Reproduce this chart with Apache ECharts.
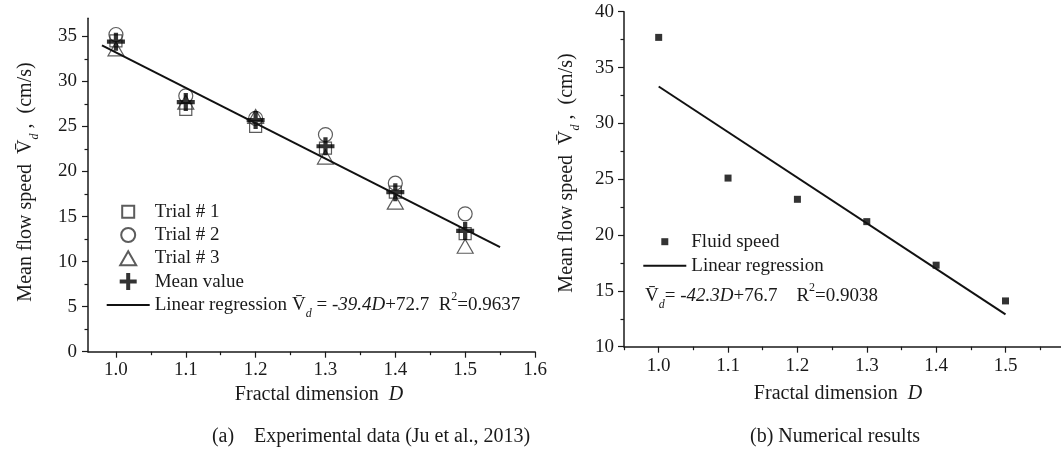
<!DOCTYPE html>
<html>
<head>
<meta charset="utf-8">
<script src="https://cdn.jsdelivr.net/npm/echarts@6/dist/echarts.min.js"></script>
<style>
  html, body { margin: 0; padding: 0; background: #fff; }
  #main { width: 1061px; height: 451px; }
</style>
</head>
<body>
<div id="main"></div>
<script>
// 数据
var fractalD = [1.0, 1.1, 1.2, 1.3, 1.4, 1.5];
// (a) 实验数据
var trial1 = [34.5, 26.9, 25.0, 22.6, 17.7, 13.1];
var trial2 = [35.2, 28.4, 25.9, 24.1, 18.7, 15.3];
var trial3 = [33.6, 27.7, 26.1, 21.6, 16.6, 11.7];
var meanValue = [34.4, 27.7, 25.7, 22.8, 17.7, 13.4];
var fitA = [[0.98, 34.0], [1.55, 11.6]];
// (b) 数值结果
var fluidSpeed = [37.7, 25.1, 23.2, 21.2, 17.3, 14.1];
var fitB = [[1.0, 33.3], [1.5, 12.9]];

// 刻度
var xTicks = [1.0, 1.1, 1.2, 1.3, 1.4, 1.5, 1.6];
var xMinorA = [1.05, 1.15, 1.25, 1.35, 1.45, 1.55];
var xTicksB = [1.0, 1.1, 1.2, 1.3, 1.4, 1.5];
var xMinorB = [0.95, 1.05, 1.15, 1.25, 1.35, 1.45, 1.55];
var yTicksA = [0, 5, 10, 15, 20, 25, 30, 35];
var yMinorA = [2.5, 7.5, 12.5, 17.5, 22.5, 27.5, 32.5];
var yTicksB = [10, 15, 20, 25, 30, 35, 40];
var yMinorB = [12.5, 17.5, 22.5, 27.5, 32.5, 37.5];

var FONT = "'Liberation Serif', 'Times New Roman', serif";
var INK = '#1a1a1a';

// 符号（外加空白 moveTo 控制大小）
var SQ = 'path://M0,0M17,17M2.5,2.5H14.5V14.5H2.5Z';
var CIR = 'path://M0,0M17,17M1.5,8.5A7,7,0,1,1,15.5,8.5A7,7,0,1,1,1.5,8.5Z';
var TRI = 'path://M0,0M17,17M0.5,15.5L8.5,1.5L16.5,15.5Z';
var CROSS = 'path://M6.5,0H10.5V6.5H17V10.5H10.5V17H6.5V10.5H0V6.5H6.5Z';
var SQ_SMALL = 'path://M0,0M17,17M5,5H12V12H5Z';
var LINE_ICON = 'path://M0,0H43V2H0Z';

function pairs(ys) {
    return fractalD.map(function (d, i) { return [d, ys[i]]; });
}

function mainX(grid, min, max, ticks, margin) {
    return {
        gridIndex: grid, type: 'value', min: min, max: max, position: 'bottom',
        axisLine: { onZero: false, lineStyle: { color: INK, width: 1.5 } },
        axisTick: { customValues: ticks, length: 6, lineStyle: { color: INK, width: 1.2 } },
        axisLabel: {
            customValues: ticks, margin: margin, fontSize: 19, fontFamily: FONT, color: INK,
            formatter: function (v) { return v.toFixed(1); }
        },
        splitLine: { show: false }
    };
}
function minorX(grid, min, max, ticks) {
    return {
        gridIndex: grid, type: 'value', min: min, max: max, position: 'bottom',
        axisLine: { show: false, onZero: false },
        axisTick: { customValues: ticks, length: 3.5, lineStyle: { color: INK, width: 1.2 } },
        axisLabel: { show: false },
        splitLine: { show: false }
    };
}
function mainY(grid, min, max, ticks, margin) {
    return {
        gridIndex: grid, type: 'value', min: min, max: max, position: 'left',
        axisLine: { show: true, onZero: false, lineStyle: { color: INK, width: 1.5 } },
        axisTick: { show: true, customValues: ticks, length: 6, lineStyle: { color: INK, width: 1.2 } },
        axisLabel: { customValues: ticks, margin: margin, fontSize: 19, fontFamily: FONT, color: INK },
        splitLine: { show: false }
    };
}
function minorY(grid, min, max, ticks) {
    return {
        gridIndex: grid, type: 'value', min: min, max: max, position: 'left',
        axisLine: { show: false, onZero: false },
        axisTick: { show: true, customValues: ticks, length: 3.5, lineStyle: { color: INK, width: 1.2 } },
        axisLabel: { show: false },
        splitLine: { show: false }
    };
}

function eqRich(size) {
    return {
        n: { fontSize: size, fontFamily: FONT, fill: INK, color: INK, lineHeight: size + 10 },
        i: { fontSize: size, fontFamily: FONT, fill: INK, color: INK, fontStyle: 'italic', lineHeight: size + 10 },
        s: { fontSize: 12, fontFamily: FONT, fill: INK, color: INK, fontStyle: 'italic', lineHeight: 12, verticalAlign: 'bottom' },
        p: { fontSize: 12, fontFamily: FONT, fill: INK, color: INK, lineHeight: 16, verticalAlign: 'top' }
    };
}
function textEl(x, y, text, size, rot) {
    return {
        type: 'text', x: x, y: y, rotation: rot || 0,
        style: {
            text: text, rich: eqRich(size), fontSize: size, fontFamily: FONT, fill: INK,
            align: 'center', verticalAlign: 'middle', textAlign: 'center', textVerticalAlign: 'middle'
        }
    };
}
function leftText(x, y, text, size) {
    var el = textEl(x, y, text, size);
    el.style.align = 'left';
    el.style.textAlign = 'left';
    return el;
}

var VBAR = 'V\u0304';
var yName = '{n|Mean flow speed  ' + VBAR + '}{s|d}{n| ,  (cm/s)}';
var hollow = { color: 'rgba(0,0,0,0)', borderColor: '#333', borderWidth: 1.2 };
var legendText = { fontSize: 19, fontFamily: FONT, color: INK, lineHeight: 20 };

var myChart = echarts.init(document.getElementById('main'));
myChart.setOption({
    animation: false,
    backgroundColor: '#fff',
    grid: [
        { left: 88, top: 18.3, width: 447, height: 333.4 },
        { left: 624, top: 11.7, width: 437, height: 335 }
    ],
    xAxis: [
        mainX(0, 0.96, 1.6, xTicks, 9),
        minorX(0, 0.96, 1.6, xMinorA),
        mainX(1, 0.95, 1.58, xTicksB, 10),
        minorX(1, 0.95, 1.58, xMinorB)
    ],
    yAxis: [
        mainY(0, 0, 37, yTicksA, 11),
        minorY(0, 0, 37, yMinorA),
        mainY(1, 10, 40, yTicksB, 10),
        minorY(1, 10, 40, yMinorB)
    ],
    legend: [
        {
            left: 106.7, top: 201.7, padding: 0, orient: 'vertical', itemWidth: 43, itemHeight: 17, itemGap: 3.3,
            selectedMode: false, textStyle: legendText,
            data: [
                { name: 'Trial # 1', icon: SQ },
                { name: 'Trial # 2', icon: CIR },
                { name: 'Trial # 3', icon: TRI },
                { name: 'Mean value', icon: CROSS },
                { name: 'Linear regression', icon: LINE_ICON }
            ]
        },
        {
            left: 643.3, top: 231.7, padding: 0, orient: 'vertical', itemWidth: 43, itemHeight: 17, itemGap: 4,
            selectedMode: false, textStyle: legendText,
            data: [
                { name: 'Fluid speed', icon: SQ_SMALL },
                { name: 'Linear regression', icon: LINE_ICON }
            ]
        }
    ],
    series: [
        {
            name: 'Linear regression', type: 'line', xAxisIndex: 0, yAxisIndex: 0,
            data: fitA, symbol: 'none', lineStyle: { color: '#111', width: 2 }, itemStyle: { color: '#111' }
        },
        {
            name: 'Trial # 1', type: 'scatter', xAxisIndex: 0, yAxisIndex: 0,
            data: pairs(trial1), symbol: SQ, symbolSize: 17, itemStyle: hollow
        },
        {
            name: 'Trial # 2', type: 'scatter', xAxisIndex: 0, yAxisIndex: 0,
            data: pairs(trial2), symbol: CIR, symbolSize: 17, itemStyle: hollow
        },
        {
            name: 'Trial # 3', type: 'scatter', xAxisIndex: 0, yAxisIndex: 0,
            data: pairs(trial3), symbol: TRI, symbolSize: 17, itemStyle: hollow
        },
        {
            name: 'Mean value', type: 'scatter', xAxisIndex: 0, yAxisIndex: 0,
            data: pairs(meanValue), symbol: CROSS, symbolSize: 18, itemStyle: { color: '#000' }
        },
        {
            name: 'Linear regression', type: 'line', xAxisIndex: 2, yAxisIndex: 2,
            data: fitB, symbol: 'none', lineStyle: { color: '#111', width: 2 }, itemStyle: { color: '#111' }
        },
        {
            name: 'Fluid speed', type: 'scatter', xAxisIndex: 2, yAxisIndex: 2,
            data: pairs(fluidSpeed), symbol: 'rect', symbolSize: 7, itemStyle: { color: '#000' }
        }
    ],
    graphic: [
        textEl(26, 182, yName, 20, Math.PI / 2),
        textEl(567, 173, yName, 20, Math.PI / 2),
        textEl(319, 395, '{n|Fractal dimension  }{i|D}', 20),
        textEl(838, 394, '{n|Fractal dimension  }{i|D}', 20),
        textEl(371, 437, '{n|(a)    Experimental data (Ju et al., 2013)}', 20),
        textEl(835, 437, '{n|(b) Numerical results}', 20),
        leftText(292, 305, '{n|' + VBAR + '}{s|d}{n| = }{i|-39.4D}{n|+72.7  R}{p|2}{n|=0.9637}', 19),
        leftText(645, 296, '{n|' + VBAR + '}{s|d}{n|= }{i|-42.3D}{n|+76.7    R}{p|2}{n|=0.9038}', 19)
    ]
});
</script>
</body>
</html>
